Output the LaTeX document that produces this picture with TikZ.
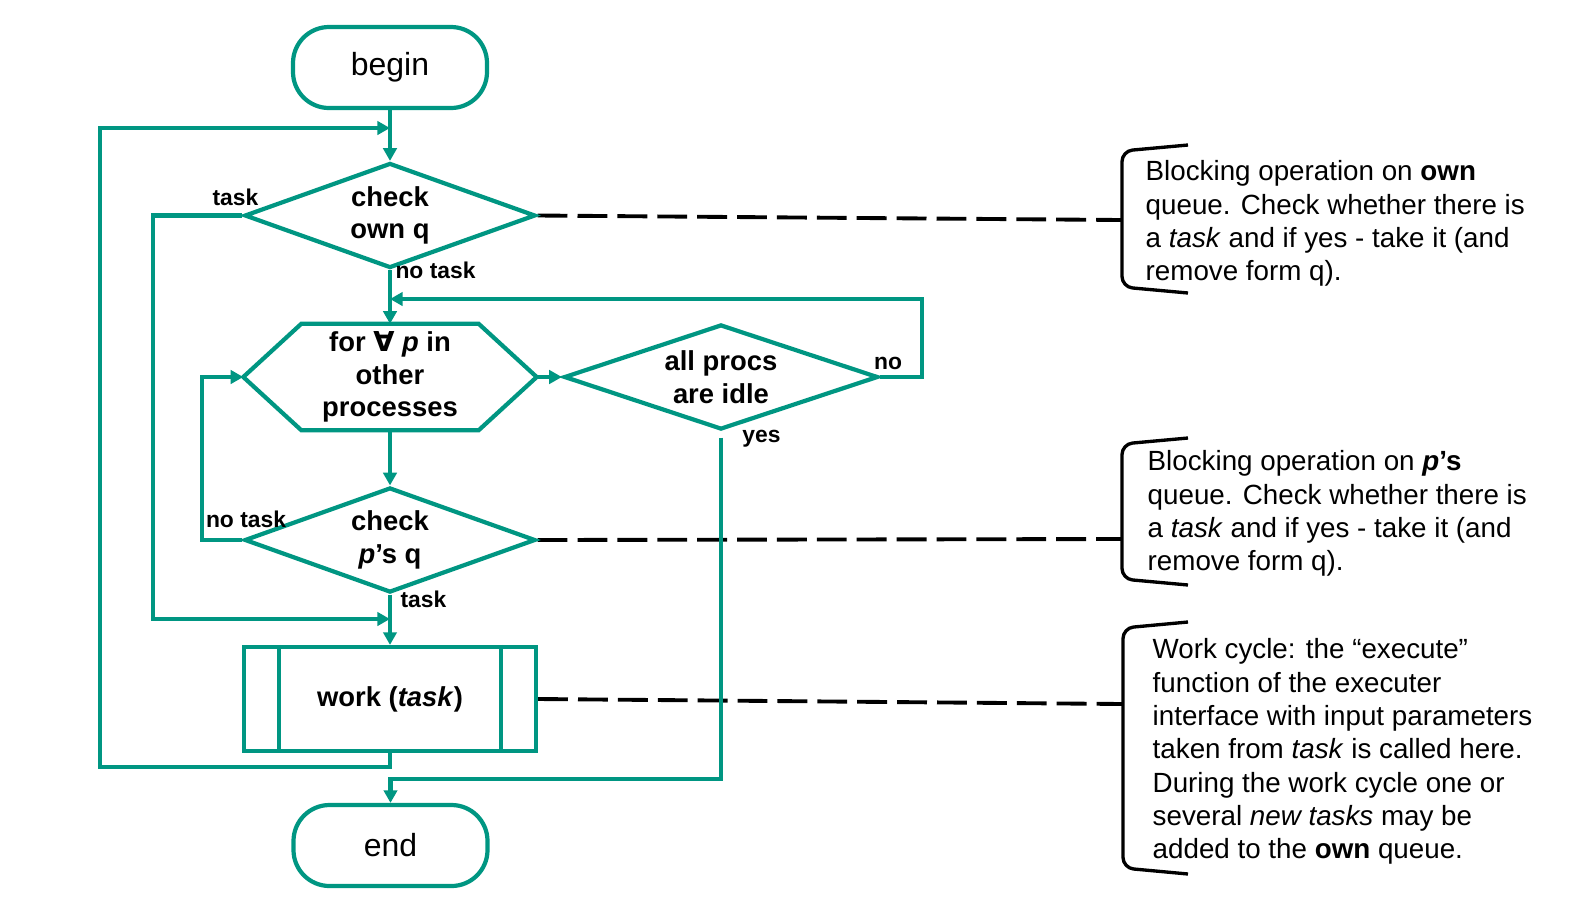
\documentclass[tikz,border=0pt]{standalone}
\usepackage{fontspec}
\setmainfont{Liberation Sans}
\newfontfamily\symfont{DejaVu Sans}
\usepackage{tikz}
\usetikzlibrary{positioning}
\usetikzlibrary{shapes.geometric}
\usetikzlibrary{arrows.meta}
\pgfdeclarelayer{background}
\pgfdeclarelayer{foreground}
\pgfsetlayers{background,main,foreground}
\definecolor{flowgreen}{RGB}{0,150,130}

\begin{document}
\begin{tikzpicture}[
	termnode/.style={rectangle, rounded corners=0.36cm, draw=flowgreen, line width=1.2pt, minimum width=1.94cm, minimum height=0.81cm, font=\fontsize{9.1}{11}\selectfont},
	decnode/.style={diamond, aspect=2.8, draw=flowgreen, line width=1.2pt, inner sep=0pt, minimum width=2.91cm, minimum height=1.05cm, align=center, font=\fontsize{7.8}{9.3}\selectfont\bfseries},
	loopnode/.style={rectangle, inner sep=0pt, minimum width=2.92cm, minimum height=1.05cm, align=center, font=\fontsize{7.8}{9.3}\selectfont\bfseries},
	worknode/.style={rectangle, draw=flowgreen, line width=1.2pt, minimum width=2.92cm, minimum height=1.04cm, font=\fontsize{7.8}{9.3}\selectfont\bfseries},
	lbl/.style={inner sep=0pt, font=\fontsize{6.5}{7.8}\selectfont\bfseries},
	note/.style={align=left, anchor=north west, inner sep=0pt, font=\fontsize{7.9}{9.48}\selectfont},
	wire/.style={draw=flowgreen, line width=1.2pt},
	flow/.style={draw=flowgreen, line width=1.2pt, -{Triangle[length=3.6pt,width=3.8pt]}},
	link/.style={draw=black, line width=1.1pt, dash pattern=on 8.5pt off 2.85pt},
	brace/.style={draw=black, line width=0.95pt, rounded corners=3pt},
	]
	\useasboundingbox (0,0) rectangle (15.93,-8.97);
	%Nodes
	\node[termnode]	(start)		at	(3.90,-0.675)	{begin};
	\node[decnode]	(ownq)		at	(3.90,-2.155)	{check\\own q};
	\node[loopnode]	(forall)	at	(3.90,-3.77)	{for {\symfont ∀} \textit{p} in\\other\\processes};
	\node[decnode, aspect=3, minimum width=3.14cm]	(idle)	at	(7.21,-3.77)	{all procs\\are idle};
	\node[decnode]	(psq)		at	(3.90,-5.40)	{check\\\textit{p}’s q};
	\node[worknode]	(work)		at	(3.90,-6.99)	{work (\textit{task})};
	\node[termnode]	(stop)		at	(3.905,-8.455)	{end};

	%Hexagon and work box
	\draw[wire] ([xshift=0.58cm]forall.north west) -- ([xshift=-0.58cm]forall.north east) -- (forall.east) -- ([xshift=-0.58cm]forall.south east) -- ([xshift=0.58cm]forall.south west) -- (forall.west) -- cycle;
	\draw[wire] ([xshift=0.37cm]work.north west) -- ([xshift=0.37cm]work.south west);
	\draw[wire] ([xshift=-0.37cm]work.north east) -- ([xshift=-0.37cm]work.south east);

	%Labels
	\node[lbl]	(taskown)	at	(2.355,-1.97)	{task};
	\node[lbl]	(notaskown)	at	(4.355,-2.70)	{no task};
	\node[lbl]	(noidle)	at	(8.88,-3.635)	{no};
	\node[lbl]	(yesidle)	at	(7.615,-4.39)	{yes};
	\node[lbl]	(notaskp)	at	(2.46,-5.19)	{no task};
	\node[lbl]	(taskp)		at	(4.235,-5.99)	{task};

	%Notes
	\node[note]	(note1)	at	(11.45,-1.60)	{Blocking operation on \textbf{own}\\queue. Check whether there is\\a \textit{task} and if yes - take it (and\\remove form q).};
	\node[note]	(note2)	at	(11.47,-4.50)	{Blocking operation on \textbf{\textit{p}’s}\\queue. Check whether there is\\a \textit{task} and if yes - take it (and\\remove form q).};
	\node[note]	(note3)	at	(11.52,-6.38)	{Work cycle: the “execute”\\function of the executer\\interface with input parameters\\taken from \textit{task} is called here.\\During the work cycle one or\\several \textit{new tasks} may be\\added to the \textbf{own} queue.};

	%Brackets
	\coordinate (brace1) at (11.22,-2.20);
	\coordinate (brace2) at (11.22,-5.39);
	\coordinate (brace3) at (11.23,-7.04);
	\draw[brace] (11.88,-1.45) -- (11.22,-1.51) -- (11.22,-2.87) -- (11.88,-2.93);
	\draw[brace] (11.88,-4.38) -- (11.22,-4.44) -- (11.22,-5.79) -- (11.88,-5.85);
	\draw[brace] (11.88,-6.22) -- (11.23,-6.28) -- (11.23,-8.68) -- (11.88,-8.74);

	%Lines
	\coordinate (outerbl)	at	(1.00,-7.67);
	\coordinate (outertl)	at	(1.00,-1.28);
	\coordinate (taskl)	at	(1.53,-6.19);
	\coordinate (nor)	at	(9.22,-2.99);
	\coordinate (notaskl)	at	(2.02,-5.40);
	\coordinate (yesb)	at	(7.21,-7.79);
	\begin{pgfonlayer}{background}
	\draw[link] (ownq.east) -- (brace1);
	\draw[link] (psq.east) -- (brace2);
	\draw[link] (work.east) -- (brace3);
	\end{pgfonlayer}
	\draw[flow] (start.south) -- (ownq.north);
	\draw[flow] (work.south) |- (outerbl) -- (outertl) -- (outertl -| start.south);
	\draw[flow] (ownq.west) -| (taskl) -- (taskl -| work.north);
	\draw[flow] (ownq.south) -- (forall.north);
	\draw[flow] (idle.east) -| (nor) -- (nor -| forall.north);
	\draw[flow] (forall.east) -- (idle.west);
	\draw[flow] (forall.south) -- (psq.north);
	\draw[flow] (psq.west) -- (notaskl) |- (forall.west);
	\draw[flow] (psq.south) -- (work.north);
	\draw[flow] ([yshift=-0.06cm]idle.south) -- (yesb) -- (yesb -| stop.north) -- (stop.north);
\end{tikzpicture}
\end{document}
